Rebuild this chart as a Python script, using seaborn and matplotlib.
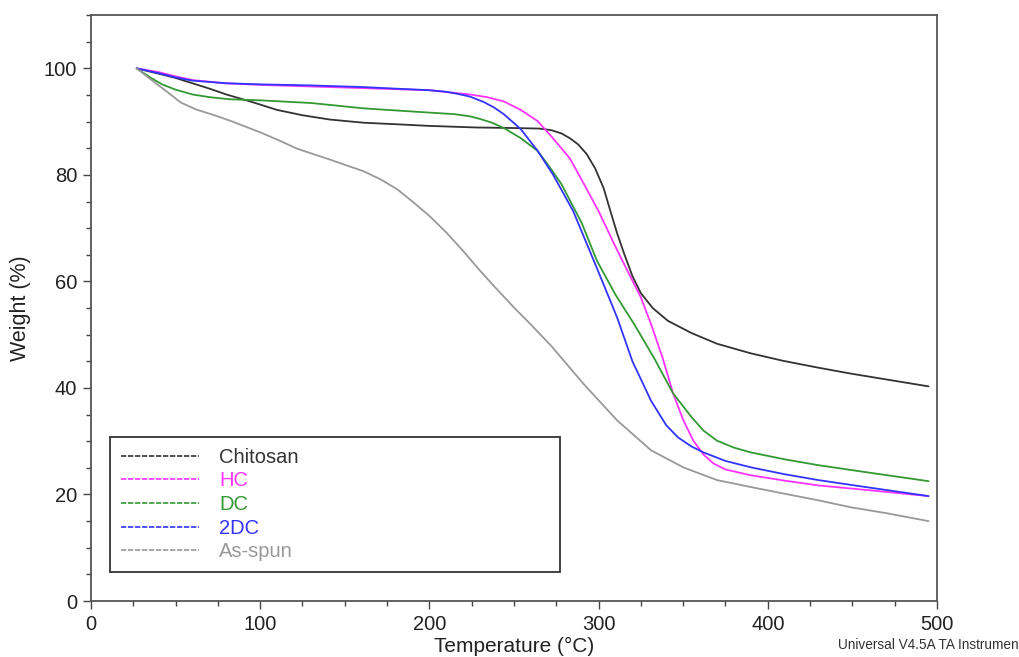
import pandas as pd
import matplotlib.pyplot as plt
import seaborn as sns
from matplotlib.lines import Line2D

sns.set_style("ticks")
plt.rcParams['font.family'] = ['Liberation Sans', 'DejaVu Sans']

# --- TGA curves (temperature in °C, weight in %) ---
chitosan_t = [27, 40, 50, 60, 70, 80, 94, 110, 125, 141, 161, 181, 200, 228, 250, 265, 272, 278, 283, 288, 293, 298, 303, 307, 311, 315, 320, 325, 332, 341, 355, 370, 390, 409, 430, 449, 470, 495]
chitosan_w = [100, 99.0, 98.2, 97.2, 96.2, 95.1, 93.8, 92.2, 91.2, 90.4, 89.8, 89.5, 89.2, 88.9, 88.8, 88.7, 88.4, 87.8, 86.9, 85.7, 83.9, 81.2, 77.5, 73.2, 69.0, 65.3, 61.0, 57.8, 55.0, 52.6, 50.3, 48.3, 46.5, 45.1, 43.8, 42.7, 41.6, 40.3]

hc_t = [27, 40, 50, 60, 80, 100, 130, 160, 200, 212, 224, 234, 244, 254, 264, 273, 283, 291, 300, 310, 318, 325, 331, 338, 344, 350, 356, 362, 368, 375, 390, 410, 430, 460, 495]
hc_w = [100, 99.3, 98.5, 97.8, 97.2, 96.9, 96.6, 96.3, 95.9, 95.5, 95.1, 94.6, 93.8, 92.2, 90.1, 86.9, 83.1, 78.5, 73.2, 66.5, 61.4, 57.0, 52.0, 45.5, 39.0, 34.0, 30.1, 27.5, 25.8, 24.7, 23.6, 22.6, 21.7, 20.8, 19.7]

dc_t = [27, 35, 42, 50, 60, 70, 82, 100, 130, 161, 190, 215, 224, 230, 237, 244, 254, 264, 271, 278, 290, 299, 310, 321, 333, 344, 355, 362, 370, 380, 390, 410, 430, 460, 495]
dc_w = [100, 98.3, 97.0, 96.0, 95.1, 94.6, 94.2, 94.0, 93.5, 92.5, 91.9, 91.4, 91.0, 90.5, 89.8, 88.8, 86.9, 84.5, 81.5, 78.3, 71.0, 63.9, 57.5, 52.0, 45.5, 39.0, 34.5, 32.0, 30.1, 28.8, 27.9, 26.6, 25.5, 24.1, 22.5]

dc2_t = [27, 40, 50, 60, 80, 100, 130, 160, 200, 210, 217, 224, 232, 238, 244, 254, 264, 273, 285, 299, 311, 320, 331, 340, 347, 355, 362, 375, 390, 410, 430, 460, 495]
dc2_w = [100, 99.1, 98.3, 97.7, 97.2, 97.0, 96.8, 96.5, 95.9, 95.6, 95.2, 94.7, 93.7, 92.7, 91.4, 88.6, 84.5, 80.1, 73.2, 62.5, 53.2, 45.0, 37.6, 33.0, 30.7, 29.0, 27.9, 26.3, 25.1, 23.8, 22.7, 21.3, 19.7]

asspun_t = [27, 35, 45, 53, 62, 72, 82, 91, 100, 111, 122, 141, 150, 161, 171, 181, 190, 200, 210, 220, 230, 240, 250, 260, 272, 291, 311, 331, 350, 370, 390, 409, 430, 449, 470, 495]
asspun_w = [100, 98.0, 95.6, 93.6, 92.3, 91.3, 90.2, 89.1, 88.0, 86.5, 84.9, 82.9, 81.9, 80.7, 79.2, 77.3, 75.0, 72.3, 69.2, 65.7, 62.0, 58.5, 55.1, 51.9, 47.9, 40.8, 33.9, 28.3, 25.1, 22.7, 21.4, 20.2, 18.9, 17.6, 16.5, 15.0]

samples = ["Chitosan", "HC", "DC", "2DC", "As-spun"]
colors = ["#333333", "#ff33ff", "#339933", "#3333ff", "#999999"]

frames = []
for name, t, w in zip(samples,
                      [chitosan_t, hc_t, dc_t, dc2_t, asspun_t],
                      [chitosan_w, hc_w, dc_w, dc2_w, asspun_w]):
    frames.append(pd.DataFrame({"Temperature": t, "Weight": w, "Sample": name}))
df = pd.concat(frames, ignore_index=True)

fig = plt.figure(figsize=(10.19, 6.57), dpi=100)
ax = fig.add_axes([0.0893, 0.0852, 0.8302, 0.8918])

sns.lineplot(data=df, x="Temperature", y="Weight", hue="Sample",
             palette=dict(zip(samples, colors)), hue_order=samples,
             sort=False, estimator=None, linewidth=1.3, legend=False, ax=ax)

ax.set_xlim(0, 500)
ax.set_ylim(0, 110)
ax.set_xticks([0, 100, 200, 300, 400, 500])
ax.set_xticks(range(0, 501, 25), minor=True)
ax.set_yticks([0, 20, 40, 60, 80, 100])
ax.set_yticks(range(0, 111, 5), minor=True)
ax.tick_params(which="major", length=6, width=1, color="#444444", labelsize=14.5,
               labelcolor="#222222", direction="out", pad=4)
ax.tick_params(which="minor", length=3.5, width=1, color="#444444", direction="out")
for s in ax.spines.values():
    s.set_color("#555555")
    s.set_linewidth(1.3)

ax.set_xlabel("Temperature (°C)", fontsize=15, color="#222222", labelpad=2)
ax.set_ylabel("Weight (%)", fontsize=15.5, color="#222222", labelpad=9)

handles = [Line2D([], [], color=c, linewidth=1.2, linestyle=(0, (3.2, 1.0))) for c in colors]
leg = ax.legend(handles, samples, loc="lower left",
                bbox_to_anchor=(0.022, 0.049, 0.532, 0.23), mode="expand",
                borderaxespad=0, fontsize=14.5, handlelength=3.9, handletextpad=1.0,
                labelspacing=0.23, borderpad=0.55, fancybox=False,
                framealpha=1, edgecolor="#333333")
leg.get_frame().set_linewidth(1.3)
for txt, c in zip(leg.get_texts(), colors):
    txt.set_color(c)

fig.text(0.822, 0.012, "Universal V4.5A TA Instrumen", fontsize=9.8, color="#333333")

fig.savefig("out.png", dpi=100)
